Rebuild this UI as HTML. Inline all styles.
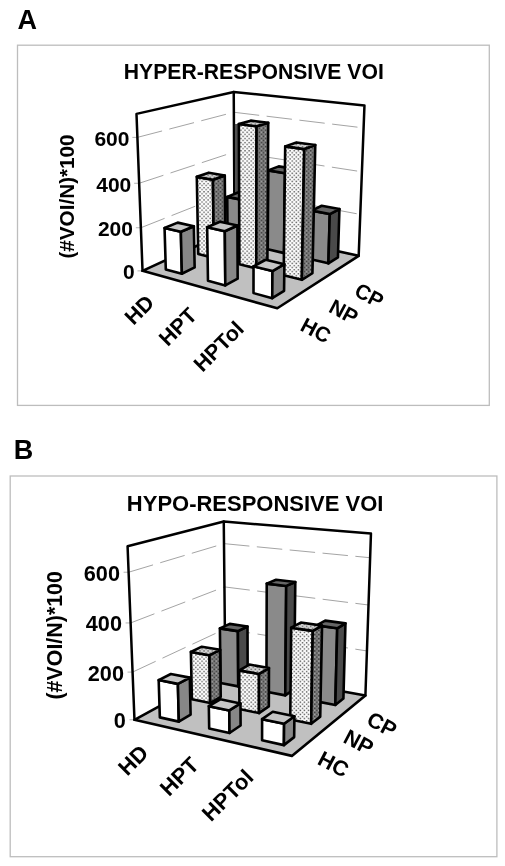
<!DOCTYPE html>
<html><head><meta charset="utf-8"><style>
html,body{margin:0;padding:0;background:#fff;}
svg{display:block;will-change:transform;filter:blur(0.35px);}
.o{stroke:#000;stroke-width:2.6;stroke-linejoin:round;}
.g{stroke:#a4a4a4;stroke-width:1;stroke-dasharray:25.5 7.5;}
.w{stroke:#000;stroke-width:2.5;stroke-linejoin:round;stroke-linecap:round;fill:none;}
.t{stroke:#aaa;stroke-width:0.9;}
</style></head><body>
<svg width="505" height="866" viewBox="0 0 505 866">
<defs>
<pattern id="npF" width="4.1" height="4.1" patternUnits="userSpaceOnUse"><rect width="4.1" height="4.1" fill="#fcfcfc"/><rect x="0.4" y="0.4" width="1.4" height="1.4" fill="#5c5c5c"/><rect x="2.45" y="2.45" width="1.4" height="1.4" fill="#5c5c5c"/></pattern>
<pattern id="npS" width="4.1" height="4.1" patternUnits="userSpaceOnUse"><rect width="4.1" height="4.1" fill="#7c7c7c"/><rect x="0.4" y="0.4" width="1.4" height="1.4" fill="#3a3a3a"/><rect x="2.45" y="2.45" width="1.4" height="1.4" fill="#3a3a3a"/><rect x="2.45" y="0.4" width="1.3" height="1.3" fill="#a5a5a5"/></pattern>
<pattern id="npT" width="4.1" height="4.1" patternUnits="userSpaceOnUse"><rect width="4.1" height="4.1" fill="#d4d4d4"/><rect x="0.4" y="0.4" width="1.4" height="1.4" fill="#6a6a6a"/><rect x="2.45" y="2.45" width="1.4" height="1.4" fill="#6a6a6a"/></pattern>
</defs>
<rect x="17.5" y="45.2" width="471.8" height="360.2" fill="none" stroke="#bdbdbd" stroke-width="1.3"/>
<rect x="10.2" y="476" width="486.7" height="380.7" fill="none" stroke="#bdbdbd" stroke-width="1.3"/>
<text x="17.5" y="28.8" font-size="27" font-family="'Liberation Sans', sans-serif" font-weight="bold">A</text>
<text x="13.7" y="458.9" font-size="27" font-family="'Liberation Sans', sans-serif" font-weight="bold">B</text>
<text x="253.8" y="78.5" text-anchor="middle" font-size="21.3" font-family="'Liberation Sans', sans-serif" font-weight="bold" textLength="260" lengthAdjust="spacingAndGlyphs">HYPER-RESPONSIVE VOI</text>
<polygon points="142.53,270.86 136.49,113.90 233.74,91.95 234.50,228.53" fill="#fff"/>
<polygon points="234.50,228.53 233.74,91.95 364.46,105.45 358.69,255.79" fill="#fff"/>
<line x1="140.87" y1="227.74" x2="234.29" y2="190.80" class="g"/>
<line x1="234.29" y1="190.80" x2="360.28" y2="214.41" class="g"/>
<line x1="139.16" y1="183.27" x2="234.07" y2="152.06" class="g"/>
<line x1="234.07" y1="152.06" x2="361.91" y2="171.80" class="g"/>
<line x1="137.39" y1="137.39" x2="233.85" y2="112.26" class="g"/>
<line x1="233.85" y1="112.26" x2="363.60" y2="127.90" class="g"/>
<line x1="137.53" y1="270.86" x2="142.53" y2="270.86" class="t"/>
<line x1="135.87" y1="227.74" x2="140.87" y2="227.74" class="t"/>
<line x1="134.16" y1="183.27" x2="139.16" y2="183.27" class="t"/>
<line x1="132.39" y1="137.39" x2="137.39" y2="137.39" class="t"/>
<polyline points="142.53,270.86 136.49,113.90 233.74,91.95 364.46,105.45 358.69,255.79" class="w"/>
<line x1="233.74" y1="91.95" x2="234.50" y2="228.53" class="w"/>
<polygon points="142.53,270.86 277.29,308.24 358.69,255.79 234.50,228.53" fill="#c0c0c0" class="o"/>
<polygon points="234.9,124 238.5,124 238.5,197 235.1,197" fill="#505050"/>
<polygon points="227.58,240.08 242.92,243.62 242.80,199.88 227.23,196.87" fill="#8a8a8a" class="o"/>
<polygon points="242.92,243.62 253.38,238.46 253.42,195.46 242.80,199.88" fill="#4a4a4a" class="o"/>
<polygon points="227.23,196.87 242.80,199.88 253.42,195.46 237.99,192.55" fill="#666666" class="o"/>
<polygon points="198.23,254.01 213.94,257.92 212.92,179.77 196.80,176.85" fill="url(#npF)" class="o"/>
<polygon points="213.94,257.92 225.46,252.23 224.78,175.46 212.92,179.77" fill="url(#npS)" class="o"/>
<polygon points="196.80,176.85 212.92,179.77 224.78,175.46 208.80,172.66" fill="url(#npT)" class="o"/>
<polygon points="267.74,249.35 284.17,253.14 285.12,173.19 268.22,170.40" fill="#8a8a8a" class="o"/>
<polygon points="284.17,253.14 294.21,247.63 295.42,169.07 285.12,173.19" fill="#4a4a4a" class="o"/>
<polygon points="268.22,170.40 285.12,173.19 295.42,169.07 278.71,166.39" fill="#666666" class="o"/>
<polygon points="165.80,269.39 181.87,273.73 180.85,231.80 164.55,228.00" fill="#ffffff" class="o"/>
<polygon points="181.87,273.73 194.65,267.43 193.83,226.26 180.85,231.80" fill="#878787" class="o"/>
<polygon points="164.55,228.00 180.85,231.80 193.83,226.26 177.67,222.62" fill="#c6c6c6" class="o"/>
<polygon points="239.40,264.26 256.28,268.46 256.57,126.28 238.85,123.98" fill="url(#npF)" class="o"/>
<polygon points="256.28,268.46 267.38,262.36 268.22,122.84 256.57,126.28" fill="url(#npS)" class="o"/>
<polygon points="238.85,123.98 256.57,126.28 268.22,122.84 250.69,120.63" fill="url(#npT)" class="o"/>
<polygon points="310.78,259.28 328.40,263.35 329.77,214.09 311.82,210.65" fill="#8a8a8a" class="o"/>
<polygon points="328.40,263.35 337.93,257.44 339.44,209.06 329.77,214.09" fill="#4a4a4a" class="o"/>
<polygon points="311.82,210.65 329.77,214.09 339.44,209.06 321.70,205.75" fill="#666666" class="o"/>
<polygon points="207.98,280.79 225.31,285.47 224.82,231.26 207.16,227.31" fill="#ffffff" class="o"/>
<polygon points="225.31,285.47 237.66,278.69 237.42,225.50 224.82,231.26" fill="#878787" class="o"/>
<polygon points="207.16,227.31 224.82,231.26 237.42,225.50 219.94,221.72" fill="#c6c6c6" class="o"/>
<polygon points="283.67,275.28 301.85,279.81 304.25,149.09 285.20,146.36" fill="url(#npF)" class="o"/>
<polygon points="301.85,279.81 312.43,273.25 315.27,145.03 304.25,149.09" fill="url(#npS)" class="o"/>
<polygon points="285.20,146.36 304.25,149.09 315.27,145.03 296.45,142.42" fill="url(#npT)" class="o"/>
<polygon points="253.50,293.09 272.25,298.16 272.46,271.04 253.53,266.35" fill="#ffffff" class="o"/>
<polygon points="272.25,298.16 284.07,290.83 284.39,264.23 272.46,271.04" fill="#878787" class="o"/>
<polygon points="253.53,266.35 272.46,271.04 284.39,264.23 265.68,259.75" fill="#c6c6c6" class="o"/>
<text x="134.63" y="279.26" text-anchor="end" font-size="21" font-family="'Liberation Sans', sans-serif" font-weight="bold">0</text>
<text x="132.97" y="236.14" text-anchor="end" font-size="21" font-family="'Liberation Sans', sans-serif" font-weight="bold">200</text>
<text x="131.26" y="191.67" text-anchor="end" font-size="21" font-family="'Liberation Sans', sans-serif" font-weight="bold">400</text>
<text x="129.49" y="145.79" text-anchor="end" font-size="21" font-family="'Liberation Sans', sans-serif" font-weight="bold">600</text>
<text x="0" y="0" transform="translate(73.8,196.5) rotate(-90)" text-anchor="middle" font-size="20.7" font-family="'Liberation Sans', sans-serif" font-weight="bold">(#VOI/N)*100</text>
<text x="0" y="0" transform="translate(139.10,309.60) rotate(-45)" text-anchor="middle" dy="0.36em" font-size="21.5" font-family="'Liberation Sans', sans-serif" font-weight="bold">HD</text>
<text x="0" y="0" transform="translate(177.50,326.50) rotate(-45)" text-anchor="middle" dy="0.36em" font-size="21.5" font-family="'Liberation Sans', sans-serif" font-weight="bold">HPT</text>
<text x="0" y="0" transform="translate(218.30,346.20) rotate(-45)" text-anchor="middle" dy="0.36em" font-size="21.5" font-family="'Liberation Sans', sans-serif" font-weight="bold">HPTol</text>
<text x="0" y="0" transform="translate(316.00,330.20) rotate(28)" text-anchor="middle" dy="0.36em" font-size="21" font-family="'Liberation Sans', sans-serif" font-weight="bold">HC</text>
<text x="0" y="0" transform="translate(343.90,311.50) rotate(28)" text-anchor="middle" dy="0.36em" font-size="21" font-family="'Liberation Sans', sans-serif" font-weight="bold">NP</text>
<text x="0" y="0" transform="translate(369.40,295.20) rotate(28)" text-anchor="middle" dy="0.36em" font-size="21" font-family="'Liberation Sans', sans-serif" font-weight="bold">CP</text>
<text x="255.1" y="510.5" text-anchor="middle" font-size="21.3" font-family="'Liberation Sans', sans-serif" font-weight="bold" textLength="256.5" lengthAdjust="spacingAndGlyphs">HYPO-RESPONSIVE VOI</text>
<polygon points="134.46,719.78 127.57,546.26 223.76,521.57 225.30,670.11" fill="#fff"/>
<polygon points="225.30,670.11 223.76,521.57 370.96,533.56 365.41,695.58" fill="#fff"/>
<line x1="132.56" y1="672.10" x2="224.87" y2="629.05" class="g"/>
<line x1="224.87" y1="629.05" x2="366.94" y2="650.94" class="g"/>
<line x1="130.61" y1="622.94" x2="224.44" y2="586.90" class="g"/>
<line x1="224.44" y1="586.90" x2="368.51" y2="605.00" class="g"/>
<line x1="128.60" y1="572.22" x2="223.99" y2="543.64" class="g"/>
<line x1="223.99" y1="543.64" x2="370.13" y2="557.72" class="g"/>
<line x1="129.46" y1="719.78" x2="134.46" y2="719.78" class="t"/>
<line x1="127.56" y1="672.10" x2="132.56" y2="672.10" class="t"/>
<line x1="125.61" y1="622.94" x2="130.61" y2="622.94" class="t"/>
<line x1="123.60" y1="572.22" x2="128.60" y2="572.22" class="t"/>
<polyline points="134.46,719.78 127.57,546.26 223.76,521.57 370.96,533.56 365.41,695.58" class="w"/>
<line x1="223.76" y1="521.57" x2="225.30" y2="670.11" class="w"/>
<polygon points="134.46,719.78 291.87,755.89 365.41,695.58 225.30,670.11" fill="#c0c0c0" class="o"/>
<polygon points="220.55,683.00 238.25,686.38 237.90,631.15 219.90,628.38" fill="#8a8a8a" class="o"/>
<polygon points="238.25,686.38 247.68,680.78 247.51,626.52 237.90,631.15" fill="#4a4a4a" class="o"/>
<polygon points="219.90,628.38 237.90,631.15 247.51,626.52 229.73,623.85" fill="#666666" class="o"/>
<polygon points="191.88,699.24 210.21,703.02 209.48,655.16 190.88,651.93" fill="url(#npF)" class="o"/>
<polygon points="210.21,703.02 220.72,696.78 220.16,649.79 209.48,655.16" fill="url(#npS)" class="o"/>
<polygon points="190.88,651.93 209.48,655.16 220.16,649.79 201.80,646.70" fill="url(#npT)" class="o"/>
<polygon points="266.43,691.76 285.26,695.36 286.21,585.93 266.73,583.60" fill="#8a8a8a" class="o"/>
<polygon points="285.26,695.36 294.07,689.42 295.30,581.98 286.21,585.93" fill="#4a4a4a" class="o"/>
<polygon points="266.73,583.60 286.21,585.93 295.30,581.98 276.09,579.74" fill="#666666" class="o"/>
<polygon points="159.85,717.39 178.84,721.63 177.88,683.87 158.68,680.08" fill="#ffffff" class="o"/>
<polygon points="178.84,721.63 190.61,714.65 189.81,677.60 177.88,683.87" fill="#878787" class="o"/>
<polygon points="158.68,680.08 177.88,683.87 189.81,677.60 170.86,673.97" fill="#c6c6c6" class="o"/>
<polygon points="239.44,709.04 259.00,713.08 259.01,673.92 239.21,670.35" fill="url(#npF)" class="o"/>
<polygon points="259.00,713.08 268.85,706.43 268.98,668.01 259.01,673.92" fill="url(#npS)" class="o"/>
<polygon points="239.21,670.35 259.01,673.92 268.98,668.01 249.46,664.59" fill="url(#npT)" class="o"/>
<polygon points="315.26,701.10 335.32,704.93 337.21,628.32 316.65,625.38" fill="#8a8a8a" class="o"/>
<polygon points="335.32,704.93 343.41,698.60 345.46,623.41 337.21,628.32" fill="#4a4a4a" class="o"/>
<polygon points="316.65,625.38 337.21,628.32 345.46,623.41 325.20,620.60" fill="#666666" class="o"/>
<polygon points="209.18,728.42 229.52,732.97 229.31,710.44 208.83,706.17" fill="#ffffff" class="o"/>
<polygon points="229.52,732.97 240.60,725.49 240.48,703.40 229.31,710.44" fill="#878787" class="o"/>
<polygon points="208.83,706.17 229.31,710.44 240.48,703.40 220.29,699.32" fill="#c6c6c6" class="o"/>
<polygon points="290.24,719.51 311.16,723.83 312.75,630.87 291.19,627.71" fill="url(#npF)" class="o"/>
<polygon points="311.16,723.83 320.23,716.73 322.05,625.60 312.75,630.87" fill="url(#npS)" class="o"/>
<polygon points="291.19,627.71 312.75,630.87 322.05,625.60 300.83,622.58" fill="url(#npT)" class="o"/>
<polygon points="262.07,740.25 283.91,745.13 284.09,723.78 262.10,719.17" fill="#ffffff" class="o"/>
<polygon points="283.91,745.13 294.17,737.11 294.41,716.19 284.09,723.78" fill="#878787" class="o"/>
<polygon points="262.10,719.17 284.09,723.78 294.41,716.19 272.76,711.79" fill="#c6c6c6" class="o"/>
<text x="125.86" y="728.18" text-anchor="end" font-size="21.7" font-family="'Liberation Sans', sans-serif" font-weight="bold">0</text>
<text x="123.96" y="680.50" text-anchor="end" font-size="21.7" font-family="'Liberation Sans', sans-serif" font-weight="bold">200</text>
<text x="122.01" y="631.34" text-anchor="end" font-size="21.7" font-family="'Liberation Sans', sans-serif" font-weight="bold">400</text>
<text x="120.00" y="580.62" text-anchor="end" font-size="21.7" font-family="'Liberation Sans', sans-serif" font-weight="bold">600</text>
<text x="0" y="0" transform="translate(62,635.3) rotate(-90)" text-anchor="middle" font-size="21.4" font-family="'Liberation Sans', sans-serif" font-weight="bold">(#VOI/N)*100</text>
<text x="0" y="0" transform="translate(132.80,759.80) rotate(-45)" text-anchor="middle" dy="0.36em" font-size="22" font-family="'Liberation Sans', sans-serif" font-weight="bold">HD</text>
<text x="0" y="0" transform="translate(179.00,776.20) rotate(-45)" text-anchor="middle" dy="0.36em" font-size="22" font-family="'Liberation Sans', sans-serif" font-weight="bold">HPT</text>
<text x="0" y="0" transform="translate(227.40,795.00) rotate(-45)" text-anchor="middle" dy="0.36em" font-size="22" font-family="'Liberation Sans', sans-serif" font-weight="bold">HPTol</text>
<text x="0" y="0" transform="translate(333.70,763.90) rotate(28)" text-anchor="middle" dy="0.36em" font-size="21.5" font-family="'Liberation Sans', sans-serif" font-weight="bold">HC</text>
<text x="0" y="0" transform="translate(358.90,741.80) rotate(28)" text-anchor="middle" dy="0.36em" font-size="21.5" font-family="'Liberation Sans', sans-serif" font-weight="bold">NP</text>
<text x="0" y="0" transform="translate(382.20,724.10) rotate(28)" text-anchor="middle" dy="0.36em" font-size="21.5" font-family="'Liberation Sans', sans-serif" font-weight="bold">CP</text>
</svg></body></html>
